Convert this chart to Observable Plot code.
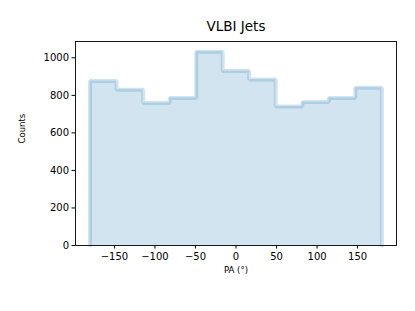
<!DOCTYPE html>
<html>
<head>
<meta charset="utf-8">
<script src="https://cdn.jsdelivr.net/npm/d3@7"></script>
<script src="https://cdn.jsdelivr.net/npm/@observablehq/plot@0.6"></script>
<style>
  html, body { margin: 0; padding: 0; background: #fff; }
  svg { font-family: "DejaVu Sans", sans-serif; }
</style>
</head>
<body>
<div id="chart"></div>
<script>
const title = "VLBI Jets";
const xLabel = "PA (°)";
const yLabel = "Counts";
const binEdges = [-180, -147.27, -114.55, -81.82, -49.09, -16.36, 16.36, 49.09, 81.82, 114.55, 147.27, 180];
const counts = [876, 830, 759, 786, 1033, 930, 884, 741, 764, 786, 841];
const xTicks = [-150, -100, -50, 0, 50, 100, 150];
const yTicks = [0, 200, 400, 600, 800, 1000];

const bins = counts.map((c, i) => ({x1: binEdges[i], x2: binEdges[i + 1], y: c}));
const outline = [{x: binEdges[0], y: 0}]
  .concat(counts.map((c, i) => ({x: binEdges[i], y: c})))
  .concat([{x: binEdges[binEdges.length - 1], y: counts[counts.length - 1]}, {x: binEdges[binEdges.length - 1], y: 0}]);

const C0 = "#1f77b4";
const fmtX = d => String(d).replace("-", "\u2212");
const fmtY = d => String(d);
const chart = Plot.plot({
  width: 415,
  height: 311,
  marginLeft: 75,
  marginRight: 19,
  marginTop: 41,
  marginBottom: 66,
  style: {fontFamily: "DejaVu Sans, sans-serif", fontSize: "10px", color: "#000", background: "#fff"},
  x: {domain: [-198, 198], ticks: xTicks, tickFormat: fmtX, label: null},
  y: {domain: [0, 1087], ticks: yTicks, tickFormat: fmtY, label: null},
  marks: [
    Plot.rectY(bins, {x1: "x1", x2: "x2", y: "y", fill: C0, fillOpacity: 0.2, inset: 0}),
    Plot.line(outline, {x: "x", y: "y", curve: "step-after", stroke: C0, strokeOpacity: 0.2, strokeWidth: 4, strokeLinejoin: "miter"}),
    Plot.frame({stroke: "#000", strokeWidth: 0.9}),
    Plot.axisX({ticks: xTicks, tickFormat: fmtX, tickSize: 3.5, tickPadding: 4, label: null, fontSize: 10}),
    Plot.axisY({ticks: yTicks, tickFormat: fmtY, tickSize: 3.5, tickPadding: 3, label: null, fontSize: 10}),
    Plot.text([title], {frameAnchor: "top", dy: -11, fontSize: 13.5, fill: "#000", lineAnchor: "bottom", text: d => d}),
    Plot.text([xLabel], {frameAnchor: "bottom", dy: 21, fontSize: 8.5, fill: "#000", lineAnchor: "top", text: d => d}),
    Plot.text([yLabel], {frameAnchor: "left", dx: -53, rotate: -90, fontSize: 8.5, fill: "#000", text: d => d})
  ]
});
document.getElementById("chart").appendChild(chart);
</script>
</body>
</html>
